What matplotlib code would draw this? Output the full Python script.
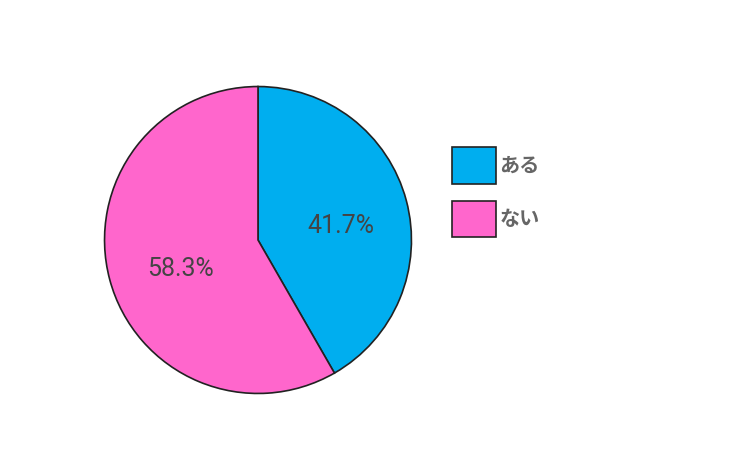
import matplotlib
matplotlib.use("Agg")
import matplotlib.pyplot as plt
from matplotlib.patches import Patch

labels = ['ある', 'ない']
values = [41.7, 58.3]
colors = ['#00AEEF', '#FF66CC']

plt.rcParams['font.family'] = ['Noto Sans CJK JP', 'DejaVu Sans']

W, H = 749, 458
fig = plt.figure(figsize=(W / 100, H / 100), dpi=100)

# pie centre (258, 240) px, radius 155 px
cx, cy, r = 258, 240, 155
ax = fig.add_axes([(cx - r) / W, (H - cy - r) / H, 2 * r / W, 2 * r / H])
wedges, texts, autotexts = ax.pie(
    values, colors=colors, startangle=90, counterclock=False,
    autopct='%.1f%%', pctdistance=0.54,
    wedgeprops=dict(edgecolor='#222222', linewidth=1.2),
    textprops=dict(color='#444444', fontsize=18,
                   family=['Roboto', 'DejaVu Sans']))
for t in autotexts:
    x, y = t.get_position()
    t.set_position((x + 0.02, y - 0.05))
ax.set_xlim(-1.01, 1.01)
ax.set_ylim(-1.01, 1.01)
ax.set_aspect('equal')
ax.axis('off')

handles = [Patch(facecolor=c, edgecolor='#222222', linewidth=1.2) for c in colors]
leg = fig.legend(handles, labels, loc='upper left',
                 bbox_to_anchor=(434 / W, 1 - 129 / H),
                 frameon=False, handlelength=2.2, handleheight=2.42,
                 handletextpad=0.15, labelspacing=0.84,
                 prop=dict(size=14.5, weight='bold'))
for t in leg.get_texts():
    t.set_color('#666666')

fig.savefig('out.png', dpi=100)
